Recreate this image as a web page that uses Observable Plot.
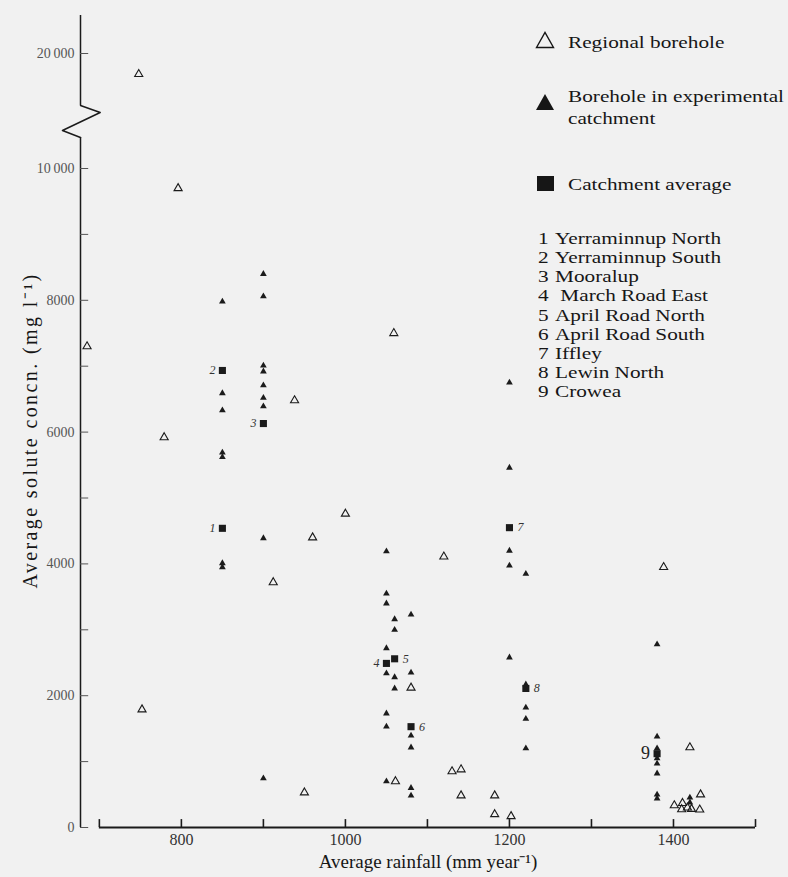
<!DOCTYPE html>
<html><head><meta charset="utf-8">
<script src="https://cdn.jsdelivr.net/npm/d3@7"></script>
<script src="https://cdn.jsdelivr.net/npm/@observablehq/plot@0.6"></script>
<style>
body{margin:0;background:#f1f1f1;}
#wrap{position:relative;width:788px;height:877px;font-family:"Liberation Serif","Times New Roman",serif;color:#161616;}
#wrap svg{display:block;}
.lg{position:absolute;white-space:pre;font-size:17px;line-height:19px;transform:scaleX(1.25);transform-origin:0 0;}
.lg .n{display:inline-block;width:13.6px;}
.ic{position:absolute;}
</style></head><body><div id="wrap"></div>
<script>
// Regional boreholes (open triangles)
const regionalRain = [748, 796, 685, 779, 752, 938, 912, 960, 1000, 1059, 1120, 1080, 1130, 1141, 950, 1061, 1141, 1182, 1182, 1202, 1388, 1420, 1401, 1411, 1410, 1417, 1422, 1433, 1432];
const regionalConc = [18200, 9700, 7300, 5920, 1790, 6480, 3720, 4400, 4760, 7500, 4110, 2120, 850, 880, 530, 700, 485, 485, 200, 170, 3950, 1215, 335, 370, 275, 300, 280, 500, 270];

// Boreholes in experimental catchments (filled triangles)
const boreRain = [850, 850, 850, 850, 850, 850, 850,
  900, 900, 900, 900, 900, 900, 900, 900, 900,
  1050, 1050, 1050, 1050, 1050, 1050, 1050, 1050,
  1060, 1060, 1060, 1060,
  1080, 1080, 1080, 1080, 1080, 1080,
  1200, 1200, 1200, 1200, 1200,
  1220, 1220, 1220, 1220, 1220,
  1380, 1380, 1380, 1380, 1380, 1380, 1380, 1380,
  1420, 1420];
const boreConc = [7980, 6590, 6330, 5690, 5620, 4010, 3950,
  8400, 8060, 7010, 6920, 6710, 6520, 6390, 4390, 745,
  4190, 3550, 3400, 2720, 2340, 1730, 1530, 700,
  3160, 3000, 2280, 2110,
  3230, 2350, 1395, 1215, 600, 485,
  6750, 5460, 4200, 3975, 2580,
  3850, 2170, 1820, 1650, 1200,
  2780, 1380, 1200, 1050, 970, 820, 500, 440,
  455, 380];

// Catchment averages (filled squares)
const avgRain = [850, 850, 900, 1050, 1060, 1080, 1200, 1220, 1380];
const avgConc = [4540, 6935, 6130, 2490, 2560, 1530, 4550, 2110, 1120];
const avgLabel = ["1", "2", "3", "4", "5", "6", "7", "8", "9"];
const labelsLeft = ["1", "2", "3", "4"];
const labelsRight = ["5", "6", "7", "8"];
const labelsBig = ["9"];

const catchmentNames = ["Yerraminnup North", "Yerraminnup South", "Mooralup", " March Road East",
  "April Road North", "April Road South", "Iffley", "Lewin North", "Crowea"];

// Axes
const xTicks = [700, 800, 900, 1000, 1100, 1200, 1300, 1400, 1500];
const xTickLabels = [800, 1000, 1200, 1400];
const yTickLabels = [0, 2000, 4000, 6000, 8000, 10000, 20000];
const yMinorTicks = [1000, 3000, 5000, 7000, 9000];
const breakRain = [677, 701, 655, 677];
const breakConc = [15480, 14870, 13300, 12700];

const xTitle = "Average rainfall (mm year\u207B\u00B9)";
const yTitle = "Average solute concn. (mg l\u207B\u00B9)";

const ink = "#1b1b1b";
const serif = "Liberation Serif, Times New Roman, serif";
const regional = regionalRain.map((r, i) => ({rain: r, conc: regionalConc[i]}));
const bores = boreRain.map((r, i) => ({rain: r, conc: boreConc[i]}));
const avgs = avgRain.map((r, i) => ({rain: r, conc: avgConc[i], label: avgLabel[i]}));
const brk = breakRain.map((r, i) => ({rain: r, conc: breakConc[i]}));
const fmtY = d => d >= 10000 ? (d / 1000) + "\u2009000" : String(d);
const fmtX = d => String(d);

const chart = Plot.plot({
  width: 788, height: 877,
  marginLeft: 80, marginRight: 33, marginTop: 15, marginBottom: 50,
  style: {background: "transparent", fontFamily: serif, overflow: "visible"},
  x: {domain: [677, 1500], range: [80, 755]},
  y: {type: "linear", domain: [0, 10000, 20000, 23300], range: [827, 168, 53, 15]},
  marks: [
    Plot.ruleY([0], {x1: 700, x2: 1500, stroke: ink, strokeWidth: 1.8}),
    Plot.ruleX(xTicks, {x: d => d, y1: 0, y2: 120, stroke: ink, strokeWidth: 1.6}),
    Plot.ruleX([677], {y1: 0, y2: breakConc[3], stroke: ink, strokeWidth: 1.5}),
    Plot.ruleX([677], {y1: breakConc[0], y2: 23300, stroke: ink, strokeWidth: 1.5}),
    Plot.line(brk, {x: "rain", y: "conc", stroke: ink, strokeWidth: 1.5}),
    Plot.ruleY([...yTickLabels, ...yMinorTicks], {y: d => d, x1: 677, x2: 687, stroke: "#555", strokeWidth: 1}),
    Plot.axisX({ticks: xTickLabels, tickSize: 0, tickPadding: 6, fontSize: 16, label: null, tickFormat: fmtX, fill: "#333", fontFamily: serif}),
    Plot.axisY({ticks: yTickLabels, tickSize: 0, tickPadding: 6, fontSize: 14, label: null, tickFormat: fmtY, fill: "#555", fontFamily: serif}),
    Plot.text([xTitle], {frameAnchor: "bottom", textAnchor: "middle", dx: 10, dy: 40, fontSize: 19, fill: "#161616", fontFamily: serif}),
    Plot.text([yTitle], {frameAnchor: "left", textAnchor: "middle", rotate: -90, dx: -50, dy: 9, fontSize: 20, fill: "#161616", fontFamily: serif}),
    Plot.dot(regional, {x: "rain", y: "conc", symbol: "triangle", r: 3, stroke: ink, fill: "none", strokeWidth: 1.1}),
    Plot.dot(bores, {x: "rain", y: "conc", symbol: "triangle", r: 2.5, fill: ink, stroke: "none"}),
    Plot.dot(avgs, {x: "rain", y: "conc", symbol: "square", r: 4, fill: ink, stroke: "none"}),
    Plot.text(avgs.filter(d => labelsLeft.includes(d.label)), {x: "rain", y: "conc", text: "label", textAnchor: "end", dx: -7, fontSize: 12, fontStyle: "italic", fill: "#333", fontFamily: serif}),
    Plot.text(avgs.filter(d => labelsRight.includes(d.label)), {x: "rain", y: "conc", text: "label", textAnchor: "start", dx: 8, fontSize: 12, fontStyle: "italic", fill: "#333", fontFamily: serif}),
    Plot.text(avgs.filter(d => labelsBig.includes(d.label)), {x: "rain", y: "conc", text: "label", textAnchor: "end", dx: -7, fontSize: 18, fill: "#222", fontFamily: serif})
  ]
});
const wrap = document.getElementById("wrap");
wrap.appendChild(chart);
// letter spacing for the rotated y title
chart.querySelectorAll("text").forEach(t => { if (t.textContent === yTitle) t.setAttribute("letter-spacing", "2.4"); });

// Legend overlay
function addText(html, left, baseline) {
  const d = document.createElement("div");
  d.className = "lg";
  d.innerHTML = html;
  d.style.left = left + "px";
  d.style.top = (baseline - 15.2) + "px";
  wrap.appendChild(d);
}
function addIcon(svg, left, top) {
  const d = document.createElement("div");
  d.className = "ic";
  d.style.left = left + "px";
  d.style.top = top + "px";
  d.innerHTML = svg;
  wrap.appendChild(d);
}
addIcon('<svg width="20" height="18"><path d="M1.5,16.5 L10,1.5 L18.5,16.5 Z" fill="none" stroke="#161616" stroke-width="1.4"/></svg>', 535, 31);
addText("Regional borehole", 568, 48);
addIcon('<svg width="20" height="18"><path d="M1,17 L10,1 L19,17 Z" fill="#161616"/></svg>', 535, 93);
addText("Borehole in experimental", 568, 102);
addText("catchment", 568, 124);
addIcon('<svg width="17" height="15"><rect x="0" y="0" width="17" height="15" fill="#161616"/></svg>', 537, 176);
addText("Catchment average", 568, 190);
catchmentNames.forEach((n, i) => {
  const base = 244 + i * 19.2;
  addText('<span class="n">' + (i + 1) + '</span>' + n, 538, base);
});
</script>
</body></html>
